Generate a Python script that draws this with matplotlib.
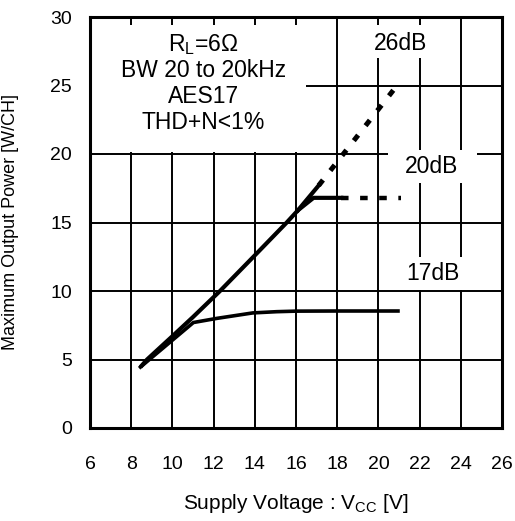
import matplotlib
matplotlib.use("Agg")
import matplotlib.pyplot as plt
from matplotlib.patches import Rectangle

plt.rcParams['font.family'] = ['Liberation Sans', 'DejaVu Sans']
plt.rcParams['mathtext.fontset'] = 'custom'
plt.rcParams['mathtext.rm'] = 'Liberation Sans'
plt.rcParams['mathtext.it'] = 'Liberation Sans'
plt.rcParams['mathtext.default'] = 'regular'

# ---- data ----
x_ticks = [6, 8, 10, 12, 14, 16, 18, 20, 22, 24, 26]
y_ticks = [0, 5, 10, 15, 20, 25, 30]

# common rising part (20dB / 26dB gain)
rise_v = [8.45, 8.77, 10.0, 11.0, 12.31, 14.0, 15.55, 16.1]
rise_p = [4.45, 5.0, 6.7, 8.1, 10.0, 12.6, 15.0, 15.9]

# 26dB
g26_solid_v = [16.1, 17.1]
g26_solid_p = [15.9, 17.7]
g26_dot_v = [17.1, 20.8]
g26_dot_p = [17.7, 24.8]

# 20dB
g20_solid_v = [16.1, 16.85, 18.2]
g20_solid_p = [15.9, 16.8, 16.8]
g20_dot_v = [18.2, 21.1]
g20_dot_p = [16.8, 16.8]

# 17dB
g17_v = [8.45, 11.02, 12.15, 13.9, 15.06, 16.0, 18.0, 20.95]
g17_p = [4.45, 7.7, 8.0, 8.4, 8.49, 8.53, 8.54, 8.54]

fig = plt.figure(figsize=(5.15, 5.21), dpi=100)
ax = fig.add_axes([90/515, 1-428/521, 412/515, 411/521])

ax.set_xlim(6, 26)
ax.set_ylim(0, 30)
ax.set_xticks(x_ticks)
ax.set_yticks(y_ticks)
ax.set_axisbelow(True)
ax.grid(True, color='black', linewidth=1.4, zorder=0.5)
ax.tick_params(length=0, labelsize=14)
ax.tick_params(axis='x', pad=20)
ax.tick_params(axis='y', pad=13)
for s in ax.spines.values():
    s.set_linewidth(2.2)
    s.set_zorder(5)

# white boxes hiding the grid behind the annotations
for (x0, y0, w, h) in [(6.0, 20.15, 10.5, 9.25),
                       (19.6, 27.0, 3.0, 2.4),
                       (20.47, 17.88, 4.33, 2.42),
                       (20.6, 10.1, 4.1, 2.4)]:
    ax.add_patch(Rectangle((x0, y0), w, h, facecolor='white', edgecolor='none', zorder=1))

lw = 3.0
ax.plot(rise_v, rise_p, color='black', lw=lw, solid_capstyle='butt', zorder=3)
ax.plot(g26_solid_v, g26_solid_p, color='black', lw=lw, zorder=3)
ax.plot(g26_dot_v, g26_dot_p, color='black', lw=3.6, linestyle=(0, (1.4, 2.4)), zorder=3)
ax.plot(g20_solid_v, g20_solid_p, color='black', lw=lw, zorder=3)
ax.plot(g20_dot_v, g20_dot_p, color='black', lw=3.2, linestyle=(0, (1.7, 2.6)), zorder=3)
ax.plot(g17_v, g17_p, color='black', lw=2.6, zorder=3)

fs = 16.5
for txt, yy in [("R$_L$=6Ω", 28.0), ("BW 20 to 20kHz", 26.1), ("AES17", 24.2), ("THD+N<1%", 22.3)]:
    ax.text(11.5, yy, txt, ha='center', va='center', fontsize=fs, zorder=4)
ax.text(21.1, 28.1, "26dB", ha='center', va='center', fontsize=fs, zorder=4)
ax.text(22.6, 19.07, "20dB", ha='center', va='center', fontsize=fs, zorder=4)
ax.text(22.65, 11.3, "17dB", ha='center', va='center', fontsize=fs, zorder=4)

ax.set_xlabel("Supply Voltage : V$_{CC}$ [V]", fontsize=15, labelpad=14)
ax.set_ylabel("Maximum Output Power [W/CH]", fontsize=13)
ax.yaxis.set_label_coords(-(90-19)/412, 0.5)

fig.savefig("out.png", dpi=100)
